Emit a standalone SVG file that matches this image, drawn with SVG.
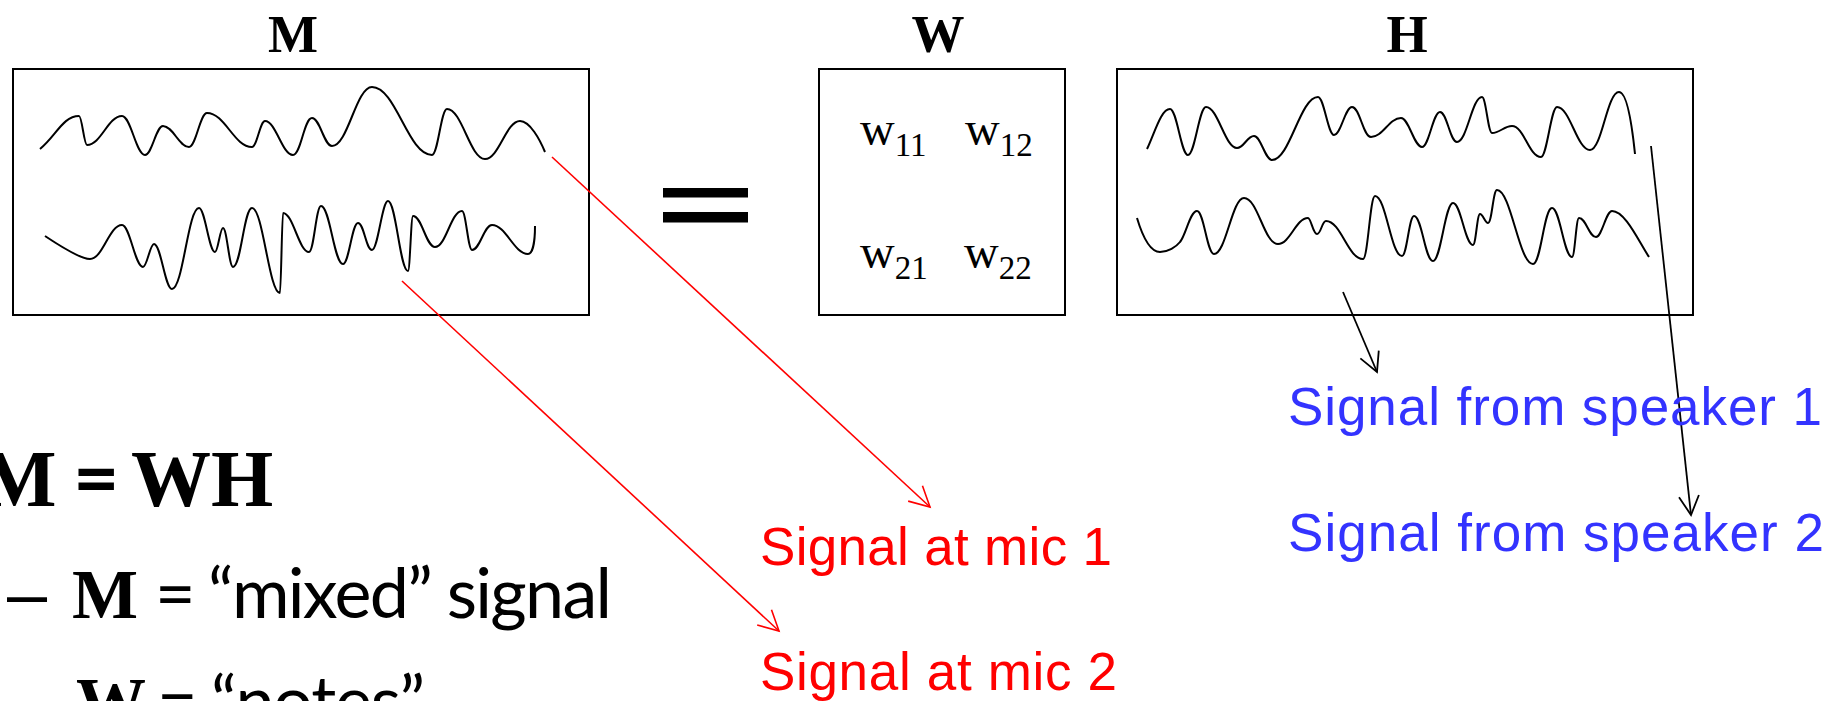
<svg xmlns="http://www.w3.org/2000/svg" width="1830" height="701" viewBox="0 0 1830 701">
<style>
.box{fill:none;stroke:#000;stroke-width:2}
.wave{fill:none;stroke:#000;stroke-width:2;stroke-linecap:butt;stroke-linejoin:round}
.title{font-family:"Liberation Serif",serif;font-weight:bold;font-size:53px;fill:#000;text-anchor:middle}
.w{font-family:"Liberation Serif",serif;font-size:48px;fill:#000}
.sub{font-size:33px}
.big{font-family:"Liberation Serif",serif;font-weight:bold;font-size:80px;fill:#000}
.serif{font-family:"Liberation Serif",serif;font-weight:bold;font-size:70px;fill:#000}
.sans{font-family:Lato,"Liberation Sans",sans-serif;font-size:70px;fill:#000}
.red{font-family:"Liberation Sans",sans-serif;font-size:53px;fill:#FF0000}
.blue{font-family:"Liberation Sans",sans-serif;font-size:53px;fill:#3333FF}
.rline{fill:none;stroke:#FF0000;stroke-width:1.6}
.kline{fill:none;stroke:#000;stroke-width:1.8}
</style>
<defs>
<marker id="arrRed" markerUnits="userSpaceOnUse" viewBox="-25 -15 30 30" markerWidth="30" markerHeight="30" refX="0" refY="0" orient="auto" overflow="visible">
<path d="M-20,-10.5 L0,0 L-20,10.5" fill="none" stroke="#FF0000" stroke-width="1.6"/>
</marker>
<marker id="arrBlack" markerUnits="userSpaceOnUse" viewBox="-25 -15 30 30" markerWidth="30" markerHeight="30" refX="0" refY="0" orient="auto" overflow="visible">
<path d="M-19,-10 L0,0 L-19,10" fill="none" stroke="#000" stroke-width="1.8"/>
</marker>
</defs>
<rect width="1830" height="701" fill="#fff"/>

<g id="node-M">
<text class="title" x="293" y="52">M</text>
<rect class="box" x="13" y="69" width="576" height="246"/>
<path class="wave" d="M40,149 C56,136 63,116 79,116 C82,116 84,145 87,145 C101,145 108,116 122,116 C131,116 136,155 145,155 C152,155 156,126 163,126 C173,126 179,147 189,147 C196,147 200,113 207,113 C225,113 234,147 252,147 C257,147 260,121 265,121 C276,121 282,155 293,155 C301,155 304,118 312,118 C320,118 324,146 332,146 C348,146 356,87 372,87 C396,87 408,155 432,155 C438,155 441,109 447,109 C462,109 470,159 485,159 C499,159 506,121 520,121 C530,121 540,140 545,152"/>
<path class="wave" d="M45,236 C60,246 80,259 90,259 C103,259 109,225 122,225 C130,225 135,267 143,267 C147,267 150,244 154,244 C161,244 165,289 172,289 C183,289 188,208 199,208 C205,208 209,252 215,252 C218,252 220,228 223,228 C227,228 229,267 233,267 C241,267 244,208 252,208 C263,208 269,293 280,293 C281,293 282,213 283,213 C293,213 299,252 309,252 C314,252 316,206 321,206 C330,206 334,264 343,264 C349,264 352,223 358,223 C364,223 366,250 372,250 C378,250 382,201 388,201 C396,201 400,271 408,271 C410,271 411,216 413,216 C422,216 426,247 435,247 C446,247 451,211 462,211 C466,211 468,250 472,250 C480,250 484,225 492,225 C506,225 514,254 528,254 C533,254 535,240 535,226"/>
</g>

<g id="equals">
<rect x="663" y="188" width="85" height="9.5" fill="#000"/>
<rect x="663" y="212" width="85" height="10.5" fill="#000"/>
</g>

<g id="node-W">
<text class="title" x="938" y="52">W</text>
<rect class="box" x="819" y="69" width="246" height="246"/>
<text class="w" x="860" y="145">w<tspan class="sub" dy="11">11</tspan></text>
<text class="w" x="965" y="145">w<tspan class="sub" dy="11">12</tspan></text>
<text class="w" x="860" y="268">w<tspan class="sub" dy="11">21</tspan></text>
<text class="w" x="964" y="268">w<tspan class="sub" dy="11">22</tspan></text>
</g>

<g id="node-H">
<text class="title" x="1407" y="52">H</text>
<rect class="box" x="1117" y="69" width="576" height="246"/>
<path class="wave" d="M1147,149 C1155,132 1161,109 1170,109 C1177,109 1181,155 1188,155 C1195,155 1199,107 1206,107 C1218,107 1225,148 1237,148 C1244,148 1247,136 1254,136 C1261,136 1265,160 1272,160 C1290,160 1300,97 1318,97 C1324,97 1328,135 1334,135 C1341,135 1345,107 1352,107 C1360,107 1363,137 1371,137 C1383,137 1389,118 1401,118 C1409,118 1414,147 1422,147 C1429,147 1433,112 1440,112 C1447,112 1450,142 1457,142 C1467,142 1472,97 1482,97 C1486,97 1488,133 1492,133 C1500,133 1504,126 1512,126 C1524,126 1529,157 1541,157 C1547,157 1551,107 1557,107 C1570,107 1577,150 1590,150 C1602,150 1607,92 1619,92 C1627,92 1632,125 1635,154"/>
<path class="wave" d="M1137,218 C1143,238 1150,252 1160,252 C1168,252 1176,247 1180,242 C1186,235 1190,211 1197,211 C1204,211 1207,254 1214,254 C1226,254 1232,198 1244,198 C1258,198 1264,244 1278,244 C1290,244 1296,218 1308,218 C1311,218 1313,234 1317,234 C1321,234 1322,221 1326,221 C1341,221 1348,259 1363,259 C1368,259 1370,196 1375,196 C1386,196 1391,256 1402,256 C1407,256 1409,216 1414,216 C1422,216 1425,261 1433,261 C1441,261 1445,203 1453,203 C1461,203 1465,245 1473,245 C1476,245 1477,214 1480,214 C1483,214 1485,223 1488,223 C1492,223 1493,190 1497,190 C1511,190 1519,264 1533,264 C1541,264 1544,208 1552,208 C1560,208 1564,257 1572,257 C1575,257 1576,218 1579,218 C1586,218 1589,237 1596,237 C1602,237 1606,211 1612,211 C1625,211 1638,240 1649,257"/>
</g>

<g id="connectors">
<line class="rline" x1="552" y1="157" x2="930" y2="507" marker-end="url(#arrRed)"/>
<line class="rline" x1="402" y1="281" x2="779" y2="631" marker-end="url(#arrRed)"/>
<line class="kline" x1="1343" y1="292" x2="1377" y2="372" marker-end="url(#arrBlack)"/>
<line class="kline" x1="1651" y1="146" x2="1691" y2="515" marker-end="url(#arrBlack)"/>
</g>

<g id="label-mic1"><text class="red" x="760" y="565" textLength="352">Signal at mic 1</text></g>
<g id="label-mic2"><text class="red" x="760" y="690" textLength="357">Signal at mic 2</text></g>
<g id="label-spk1"><text class="blue" x="1288" y="425" textLength="534">Signal from speaker 1</text></g>
<g id="label-spk2"><text class="blue" x="1288" y="551" textLength="536">Signal from speaker 2</text></g>

<g id="equation">
<text class="big" y="506"><tspan x="-19">M</tspan><tspan x="131">WH</tspan></text>
<text x="73" y="506" style="font-family:Lato,'Liberation Sans',sans-serif;font-weight:bold;font-size:80px;fill:#000">=</text>
<text x="7" y="618" style="font-family:'Liberation Sans',sans-serif;font-size:72px;fill:#000">–</text>
<text class="serif" x="72" y="618">M</text>
<text class="sans" x="155" y="618">=</text>
<text class="sans" x="208" y="618" textLength="404">“mixed” signal</text>
<text class="serif" x="76" y="726">W</text>
<text class="sans" x="157" y="726">=</text>
<text class="sans" x="211" y="726" textLength="214">“notes”</text>
</g>
</svg>
